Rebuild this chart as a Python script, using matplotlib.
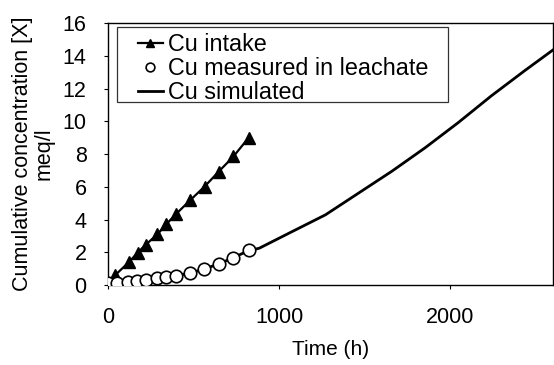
import matplotlib

matplotlib.use("Agg")

import matplotlib.pyplot as plt
from matplotlib.path import Path

# Cu intake (triangles)
intake_t = [41, 124, 173, 221, 289, 341, 395, 481, 564, 647, 733, 822]
intake_c = [0.6, 1.42, 1.98, 2.47, 3.1, 3.72, 4.31, 5.19, 6.01, 6.93, 7.85, 9.0]

# Cu measured in leachate (open circles)
meas_t = [0, 50, 118, 167, 219, 287, 341, 395, 481, 560, 647, 729, 822]
meas_c = [0.1, 0.15, 0.18, 0.22, 0.33, 0.43, 0.49, 0.57, 0.73, 1.0, 1.31, 1.68, 2.15]

# Cu simulated (solid line)
sim_t = [0, 118, 219, 341, 481, 647, 822, 884, 1077, 1271, 1465, 1659, 1853,
         2047, 2240, 2434, 2600]
sim_c = [0.05, 0.17, 0.32, 0.48, 0.72, 1.28, 2.1, 2.25, 3.27, 4.29, 5.62, 6.95,
         8.38, 9.92, 11.55, 13.08, 14.35]


def _legend_box(x0, y0, width, height, mutation_size):
    # asymmetric padding (pixels): wider left/right, tighter bottom
    left, right, bottom = 15, 14, -8
    xa, xb = x0 - left, x0 + width + right
    ya, yb = y0 - bottom, y0 + height
    return Path([(xa, ya), (xb, ya), (xb, yb), (xa, yb), (xa, ya)],
                closed=True)


plt.rcParams["font.family"] = ["Liberation Sans", "DejaVu Sans"]

fig = plt.figure(figsize=(5.54, 3.65), dpi=100)
ax = fig.add_axes([0.195, 0.219, 0.803, 0.718])

ax.plot(intake_t, intake_c, color="black", linewidth=1.6, marker="^",
        markersize=8.5, label="Cu intake", zorder=3)
ax.plot(meas_t, meas_c, linestyle="none", marker="o", markersize=9,
        markerfacecolor="white", markeredgecolor="black", markeredgewidth=1.2,
        label="Cu measured in leachate", zorder=4)
ax.plot(sim_t, sim_c, color="black", linewidth=2.0, label="Cu simulated",
        zorder=2)

ax.set_xlim(0, 2600)
ax.set_ylim(0, 16)
ax.set_xticks([0, 1000, 2000])
ax.set_yticks(range(0, 17, 2))
ax.tick_params(direction="out", length=3, width=0.8, labelsize=15.5,
               pad=12.5, colors="black")
ax.set_xlabel("Time (h)", fontsize=15, labelpad=9)
ax.set_ylabel("Cumulative concentration [X]\nmeq/l", fontsize=15.5,
              linespacing=1.0, labelpad=6, multialignment="center")

for spine in ax.spines.values():
    spine.set_linewidth(1.0)

leg = ax.legend(loc="upper left", bbox_to_anchor=(0.054, 0.985), fontsize=16.8,
                frameon=True, fancybox=False, edgecolor="black",
                handlelength=1.07, handletextpad=0.21, borderpad=0.25,
                labelspacing=0.05, borderaxespad=0.0, markerscale=0.7)
leg.get_frame().set_linewidth(0.9)
leg.get_frame().set_boxstyle(_legend_box)

fig.savefig("out.png", dpi=100)
